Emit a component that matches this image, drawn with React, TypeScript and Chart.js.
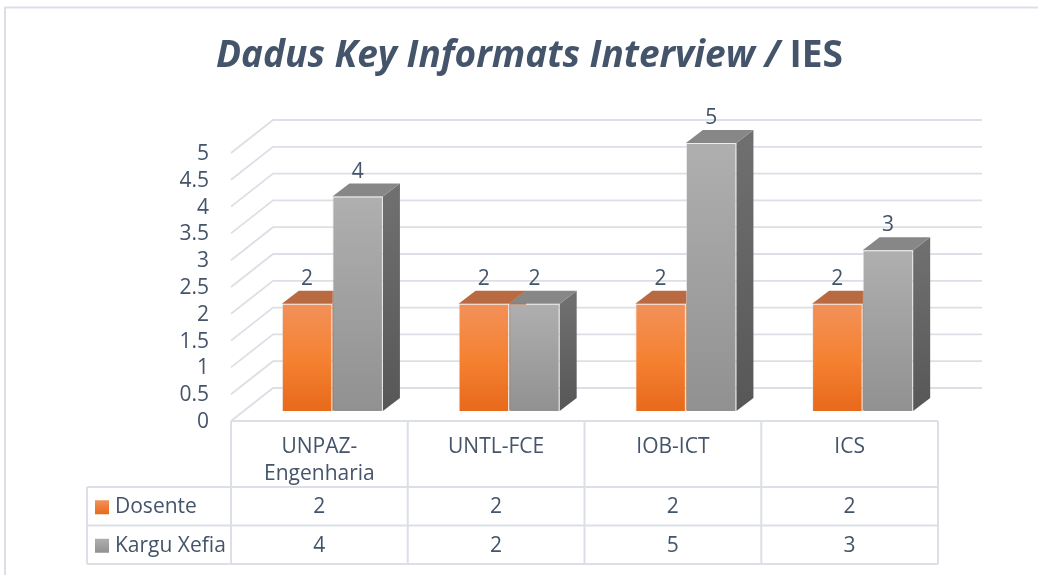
import React, { useEffect, useRef } from "react";
import { Chart, registerables } from "chart.js";
Chart.register(...registerables);

// ---------- data ----------
const categories: (string | string[])[] = [["UNPAZ-", "Engenharia"], "UNTL-FCE", "IOB-ICT", "ICS"];
const seriesNames = ["Dosente", "Kargu Xefia"];
const dosenteValues = [2, 2, 2, 2];
const karguXefiaValues = [4, 2, 5, 3];
const yTickValues = [0, 0.5, 1, 1.5, 2, 2.5, 3, 3.5, 4, 4.5, 5];
const yTickLabels = ["0", "0.5", "1", "1.5", "2", "2.5", "3", "3.5", "4", "4.5", "5"];
const titleItalic = "Dadus Key Informats Interview /";
const titleRegular = "IES";

// ---------- style / geometry ----------
const W = 1038;
const H = 575;
const FRONT = { dx: -13, dy: 10 };
const BACK = { dx: 29, dy: -23 };
const DEPTH = { dx: 17, dy: -13 };
const TEXT = "#44546A";
const LINE = "#DCE0E6";
const FONT = '"Open Sans", sans-serif';
const TITLE_SIZE = 37;

const seriesStyles = [
  { frontTop: "#F29159", frontBottom: "#E8691B", top: "#B96A41", sideTop: "#B35A20", sideBottom: "#9E4A14" },
  { frontTop: "#AFAFAF", frontBottom: "#919191", top: "#878787", sideTop: "#6F6F6F", sideBottom: "#575757" },
];

const seriesValues = [dosenteValues, karguXefiaValues];

function barProps(chart: any, di: number, j: number) {
  const el: any = chart.getDatasetMeta(di).data[j];
  const p = el.getProps(["x", "y", "base", "width"], true);
  return { left: p.x - p.width / 2, right: p.x + p.width / 2, x: p.x, y: p.y, base: p.base };
}

const chart3dPlugin = {
  id: "chart3d",
  beforeDraw(chart: any) {
    const ctx: CanvasRenderingContext2D = chart.ctx;
    const ca = chart.chartArea;
    const ys = chart.scales.y;
    ctx.save();
    ctx.fillStyle = "#FFFFFF";
    ctx.fillRect(0, 0, W, H);

    // outer frame
    ctx.strokeStyle = LINE;
    ctx.lineWidth = 2;
    ctx.beginPath();
    ctx.moveTo(5, H + 2);
    ctx.lineTo(5, 7.5);
    ctx.lineTo(W + 2, 7.5);
    ctx.stroke();

    // title
    ctx.fillStyle = TEXT;
    ctx.textBaseline = "alphabetic";
    ctx.textAlign = "left";
    const fItalic = `italic bold ${TITLE_SIZE}px ${FONT}`;
    const fReg = `bold ${TITLE_SIZE}px ${FONT}`;
    ctx.font = fItalic;
    const wI = ctx.measureText(titleItalic + " ").width;
    ctx.font = fReg;
    const wR = ctx.measureText(titleRegular).width;
    const tx = 529.5 - (wI + wR) / 2;
    ctx.font = fItalic;
    ctx.fillText(titleItalic + " ", tx, 67);
    ctx.font = fReg;
    ctx.fillText(titleRegular, tx + wI, 67);

    // gridlines: back wall + side wall diagonals
    ctx.strokeStyle = LINE;
    ctx.lineWidth = 1.8;
    const backL = ca.left + BACK.dx;
    const backR = ca.right + BACK.dx + 2;
    const frontL = ca.left + FRONT.dx;
    yTickValues.forEach((v) => {
      const yb = ys.getPixelForValue(v);
      ctx.beginPath();
      ctx.moveTo(frontL, yb + FRONT.dy);
      ctx.lineTo(backL, yb + BACK.dy);
      ctx.lineTo(backR, yb + BACK.dy);
      ctx.stroke();
    });

    // tick labels
    ctx.fillStyle = TEXT;
    ctx.font = `21px ${FONT}`;
    ctx.textAlign = "right";
    ctx.textBaseline = "middle";
    yTickValues.forEach((v, i) => {
      ctx.fillText(yTickLabels[i], frontL - 22, ys.getPixelForValue(v) + FRONT.dy + 1);
    });

    // data table
    const n = categories.length;
    const catW = (ca.right - ca.left) / n;
    const x0 = frontL;
    const x1 = x0 + n * catW;
    const yTop = ys.getPixelForValue(0) + FRONT.dy;
    const yHead = yTop + 66;
    const rowH = 38.5;
    const labelLeft = 87;
    ctx.strokeStyle = LINE;
    ctx.lineWidth = 2;
    ctx.beginPath();
    ctx.moveTo(x0, yTop);
    ctx.lineTo(x1, yTop);
    for (let r = 0; r <= seriesNames.length; r++) {
      const yy = yHead + r * rowH;
      ctx.moveTo(labelLeft, yy);
      ctx.lineTo(x1, yy);
    }
    for (let i = 0; i <= n; i++) {
      ctx.moveTo(x0 + i * catW, yTop);
      ctx.lineTo(x0 + i * catW, yHead + seriesNames.length * rowH);
    }
    ctx.moveTo(labelLeft, yHead);
    ctx.lineTo(labelLeft, yHead + seriesNames.length * rowH);
    ctx.stroke();

    ctx.fillStyle = TEXT;
    ctx.font = `21px ${FONT}`;
    ctx.textAlign = "center";
    ctx.textBaseline = "middle";
    categories.forEach((c, i) => {
      const lines = Array.isArray(c) ? c : [c];
      const cx = x0 + (i + 0.5) * catW;
      lines.forEach((ln, k) => ctx.fillText(ln, cx, yTop + 26 + k * 27));
    });
    seriesNames.forEach((name, r) => {
      const cy = yHead + r * rowH + rowH / 2 + 1;
      const st = seriesStyles[r];
      const g = ctx.createLinearGradient(0, cy - 7, 0, cy + 7);
      g.addColorStop(0, st.frontTop);
      g.addColorStop(1, st.frontBottom);
      ctx.fillStyle = g;
      ctx.fillRect(labelLeft + 8, cy - 7, 14, 14);
      ctx.fillStyle = TEXT;
      ctx.textAlign = "left";
      ctx.fillText(name, labelLeft + 28, cy);
      ctx.textAlign = "center";
      seriesValues[r].forEach((v, i) => {
        ctx.fillText(String(v), x0 + (i + 0.5) * catW, cy);
      });
    });
    ctx.restore();
  },
  beforeDatasetsDraw(chart: any) {
    const ctx: CanvasRenderingContext2D = chart.ctx;
    ctx.save();
    const n = categories.length;
    for (let j = 0; j < n; j++) {
      for (let di = 0; di < seriesValues.length; di++) {
        const b = barProps(chart, di, j);
        const st = seriesStyles[di];
        // side face
        const sg = ctx.createLinearGradient(0, b.y, 0, b.base);
        sg.addColorStop(0, st.sideTop);
        sg.addColorStop(1, st.sideBottom);
        ctx.fillStyle = sg;
        ctx.beginPath();
        ctx.moveTo(b.right, b.y);
        ctx.lineTo(b.right + DEPTH.dx, b.y + DEPTH.dy);
        ctx.lineTo(b.right + DEPTH.dx, b.base + DEPTH.dy);
        ctx.lineTo(b.right, b.base);
        ctx.closePath();
        ctx.fill();
        // top face
        ctx.fillStyle = st.top;
        ctx.beginPath();
        ctx.moveTo(b.left, b.y);
        ctx.lineTo(b.right, b.y);
        ctx.lineTo(b.right + DEPTH.dx, b.y + DEPTH.dy);
        ctx.lineTo(b.left + DEPTH.dx, b.y + DEPTH.dy);
        ctx.closePath();
        ctx.fill();
      }
    }
    ctx.restore();
  },
  afterDatasetsDraw(chart: any) {
    const ctx: CanvasRenderingContext2D = chart.ctx;
    ctx.save();
    ctx.fillStyle = TEXT;
    ctx.font = `21px ${FONT}`;
    ctx.textAlign = "center";
    ctx.textBaseline = "middle";
    for (let di = 0; di < seriesValues.length; di++) {
      seriesValues[di].forEach((v, j) => {
        const b = barProps(chart, di, j);
        ctx.fillText(String(v), b.x, b.y + DEPTH.dy - 12);
      });
    }
    ctx.restore();
  },
};

function frontGradient(di: number) {
  return (c: any) => {
    const chart = c.chart;
    const st = seriesStyles[di];
    if (!chart.chartArea || c.type !== "data" || !chart.scales.y) return st.frontTop;
    const ys = chart.scales.y;
    const top = ys.getPixelForValue(c.raw as number);
    const base = ys.getPixelForValue(0);
    const g = chart.ctx.createLinearGradient(0, top, 0, base);
    g.addColorStop(0, st.frontTop);
    g.addColorStop(0.5, di === 0 ? "#F58232" : "#A0A0A0");
    g.addColorStop(1, st.frontBottom);
    return g;
  };
}

export default function App() {
  const ref = useRef<HTMLCanvasElement>(null);
  useEffect(() => {
    if (!ref.current) return;
    const chart = new Chart(ref.current, {
      type: "bar",
      data: {
        labels: categories as any,
        datasets: seriesNames.map((name, di) => ({
          label: name,
          data: seriesValues[di],
          backgroundColor: frontGradient(di),
          borderColor: "rgba(225,225,225,0.6)",
          borderWidth: 1,
          categoryPercentage: 0.572,
          barPercentage: 1,
        })),
      },
      options: {
        responsive: false,
        animation: false,
        devicePixelRatio: 1,
        layout: { padding: { left: 244, right: W - 951, top: 143, bottom: H - 411 } },
        scales: {
          x: { display: false, offset: true },
          y: { display: false, min: 0, max: 5 },
        },
        plugins: {
          legend: { display: false },
          title: { display: false },
          tooltip: { enabled: false },
        },
      },
      plugins: [chart3dPlugin],
    });
    const fonts = (document as any).fonts;
    if (fonts && fonts.load) {
      Promise.all([
        fonts.load(`italic bold ${TITLE_SIZE}px ${FONT}`),
        fonts.load(`bold ${TITLE_SIZE}px ${FONT}`),
        fonts.load(`21px ${FONT}`),
      ])
        .then(() => chart.update())
        .catch(() => {});
    }
    return () => chart.destroy();
  }, []);
  return (
    <div style={{ position: "fixed", left: 0, top: 0, width: W, height: H, background: "#fff" }}>
      <canvas ref={ref} width={W} height={H} style={{ display: "block", width: W, height: H }} />
    </div>
  );
}
